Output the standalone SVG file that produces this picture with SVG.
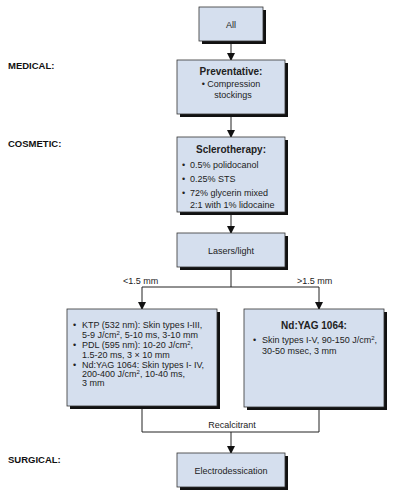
<svg xmlns="http://www.w3.org/2000/svg" width="405" height="500" viewBox="0 0 405 500">
<style>
.box{fill:#d5dfee;stroke:#333;stroke-width:0.8}
.sh{fill:#111}
text{font-family:"Liberation Sans",Arial,sans-serif;fill:#222;font-size:9px}
.t{font-weight:bold;font-size:10px}
.c{text-anchor:middle}
.sec{font-weight:bold;font-size:9.5px;fill:#111}
.ln{fill:none;stroke:#222;stroke-width:1}
</style>
<defs>
<marker id="ah" viewBox="0 0 8 8" refX="7" refY="4" markerWidth="8" markerHeight="8" markerUnits="userSpaceOnUse" orient="auto">
<path d="M0,0 L8,4 L0,8 z" fill="#111"/>
</marker>
</defs>
<rect width="405" height="500" fill="#fff"/>
<g id="labels">
<text class="sec" x="8" y="69">MEDICAL:</text>
<text class="sec" x="8" y="147">COSMETIC:</text>
<text class="sec" x="8" y="463">SURGICAL:</text>
</g>
<g id="connectors">
<path class="ln" d="M231,41 V60" marker-end="url(#ah)"/>
<path class="ln" d="M231,117 V137" marker-end="url(#ah)"/>
<path class="ln" d="M231,215 V233" marker-end="url(#ah)"/>
<path class="ln" d="M231,270 V287 M142,287 H319"/>
<path class="ln" d="M142,287 V309" marker-end="url(#ah)"/>
<path class="ln" d="M319,287 V309" marker-end="url(#ah)"/>
<path class="ln" d="M142,409 V432 H319 V410"/>
<path class="ln" d="M231,432 V453" marker-end="url(#ah)"/>
<text x="123" y="284">&lt;1.5 mm</text>
<text x="297" y="284">&gt;1.5 mm</text>
<text class="c" x="232" y="428">Recalcitrant</text>
</g>
<g id="all">
<rect class="sh" x="202" y="10" width="64" height="34"/>
<rect class="box" x="199" y="7" width="64" height="34"/>
<text class="c" x="231" y="28" font-size="9.5">All</text>
</g>
<g id="preventative">
<rect class="sh" x="180" y="63" width="108" height="54"/>
<rect class="box" x="177" y="60" width="108" height="54"/>
<text class="t c" x="231" y="75">Preventative:</text>
<text class="c" x="231" y="87">• Compression</text>
<text class="c" x="233" y="98">stockings</text>
</g>
<g id="sclerotherapy">
<rect class="sh" x="180" y="140" width="108" height="75"/>
<rect class="box" x="177" y="137" width="108" height="75"/>
<text class="t c" x="231" y="153">Sclerotherapy:</text>
<text x="182" y="168">•</text><text x="190" y="168">0.5% polidocanol</text>
<text x="182" y="182">•</text><text x="190" y="182">0.25% STS</text>
<text x="182" y="196">•</text><text x="190" y="196">72% glycerin mixed</text>
<text x="190" y="208">2:1 with 1% lidocaine</text>
</g>
<g id="lasers">
<rect class="sh" x="180" y="236" width="108" height="34"/>
<rect class="box" x="177" y="233" width="108" height="34"/>
<text class="c" x="231" y="254" font-size="9.5">Lasers/light</text>
</g>
<g id="small">
<rect class="sh" x="70" y="312" width="150" height="97"/>
<rect class="box" x="67" y="309" width="150" height="97"/>
<text x="73" y="328">•</text><text x="82" y="328">KTP (532 nm): Skin types I-III,</text>
<text x="82" y="338">5-9 J/cm<tspan dy="-3" font-size="6">2</tspan><tspan dy="3">, 5-10 ms, 3-10 mm</tspan></text>
<text x="73" y="348">•</text><text x="82" y="348">PDL (595 nm): 10-20 J/cm<tspan dy="-3" font-size="6">2</tspan><tspan dy="3">,</tspan></text>
<text x="82" y="358">1.5-20 ms, 3 × 10 mm</text>
<text x="73" y="368">•</text><text x="82" y="368">Nd:YAG 1064: Skin types I- IV,</text>
<text x="82" y="377">200-400 J/cm<tspan dy="-3" font-size="6">2</tspan><tspan dy="3">, 10-40 ms,</tspan></text>
<text x="82" y="386">3 mm</text>
</g>
<g id="large">
<rect class="sh" x="247" y="312" width="140" height="98"/>
<rect class="box" x="244" y="309" width="140" height="98"/>
<text class="t c" x="314" y="329">Nd:YAG 1064:</text>
<text x="253" y="343">•</text><text x="262" y="343">Skin types I-V, 90-150 J/cm<tspan dy="-3" font-size="6">2</tspan><tspan dy="3">,</tspan></text>
<text x="262" y="354">30-50 msec, 3 mm</text>
</g>
<g id="electro">
<rect class="sh" x="180" y="456" width="108" height="34"/>
<rect class="box" x="177" y="453" width="108" height="34"/>
<text class="c" x="231" y="474" font-size="9.5">Electrodessication</text>
</g>
</svg>
